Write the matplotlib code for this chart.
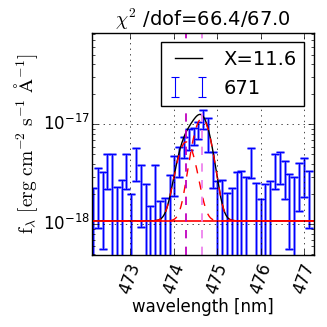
import numpy as np
import matplotlib
matplotlib.use("Agg")
import matplotlib.pyplot as plt

plt.style.use("classic")
plt.rcParams["mathtext.fontset"] = "cm"

# data (flux in 1e-18 erg/cm2/s/A): upper and lower ends of each error bar
wavelength = [472.151, 472.261, 472.371, 472.481, 472.591, 472.701, 472.810, 472.920,
              473.030, 473.140, 473.250, 473.360, 473.470, 473.580, 473.690, 473.800,
              473.909, 474.019, 474.129, 474.239, 474.349, 474.459, 474.569, 474.679,
              474.789, 474.899, 475.008, 475.118, 475.228, 475.338, 475.448, 475.558,
              475.668, 475.778, 475.888, 475.998, 476.107, 476.217, 476.327, 476.437,
              476.547, 476.657, 476.767, 476.877, 476.987, 477.097]
flux_hi = [2.3, 3.63, 3.3, 5.0, 5.1, 2.34, 2.75, 5.0, 2.0, 5.75, 3.9, 2.5,
           1.51, 3.9, 1.7, 1.82, 3.1, 4.8, 6.0, 7.4, 9.1, 9.3, 10.5, 13.8,
           11.5, 5.25, 2.7, 2.75, 2.04, 2.3, 3.3, 3.4, 3.0, 5.75, 2.57, 1.78,
           2.5, 2.7, 5.0, 5.25, 4.27, 3.2, 3.0, 4.07, 4.57, 3.4]
flux_lo = [-0.3, 0.91, 0.56, 2.24, -0.3, -0.4, -0.3, 2.24, -0.5, 2.7, 0.93, -0.3,
           -0.2, -0.5, -0.3, -0.3, -0.3, 1.9, 3.0, 4.57, 5.6, 6.2, 7.2, 8.9,
           5.25, 2.3, -0.3, -0.3, -0.3, -0.3, -0.3, -0.3, -0.3, 2.88, -0.3, -0.3,
           -0.3, -0.3, 2.24, 2.5, 1.78, 0.56, -0.3, 1.35, 1.86, 0.91]

# model parameters
continuum = 1.08          # 1e-18
line_centers = [474.29, 474.65]
line_amps = [5.6, 10.4]   # 1e-18
line_sigma = 0.19         # nm
line_colors = ["m", "violet"]

title = r"$\chi^2$ /dof=66.4/67.0"
model_label = "X=11.6"
data_label = "671"
xticks = [473, 474, 475, 476, 477]

scale = 1e-18
wl = np.array(wavelength)
hi = np.array(flux_hi) * scale
lo = np.array(flux_lo) * scale
flux = (hi + lo) / 2
err = (hi - lo) / 2

fig = plt.figure(figsize=(3.27, 3.27), dpi=100)
ax = fig.add_axes([0.280, 0.220, 0.680, 0.680])
ax.set_yscale("log", nonpositive="clip")

grid = np.linspace(472.0, 477.4, 600)
comps = [continuum * scale + a * scale * np.exp(-(grid - c) ** 2 / (2 * line_sigma ** 2))
         for c, a in zip(line_centers, line_amps)]
total = continuum * scale + sum(a * scale * np.exp(-(grid - c) ** 2 / (2 * line_sigma ** 2))
                                for c, a in zip(line_centers, line_amps))

ax.errorbar(wl, flux, yerr=err, fmt="none", ecolor="#8484ff", elinewidth=2.0,
            capsize=3, capthick=2.0)
eb = ax.errorbar(wl, flux, yerr=err, fmt="none", ecolor="b", elinewidth=0.8,
                 capsize=3, capthick=0.8, label=data_label)
ln, = ax.plot(grid, total, "k-", lw=1, label=model_label)
ax.axhline(continuum * scale, color="r", lw=1.2)
for comp in comps:
    ax.plot(grid, comp, "r--", lw=1)
for c, col in zip(line_centers, line_colors):
    ax.axvline(c, color=col, ls="--", lw=1.3)

ax.set_xlim(472.12, 477.22)
ax.set_ylim(10 ** -18.31, 10 ** -16.08)
ax.set_xticks(xticks)
ax.set_xticklabels([str(t) for t in xticks], rotation=70)
ax.tick_params(axis="x", labelsize=12)
ax.tick_params(axis="y", which="major", labelsize=12, pad=1)
ax.grid(True)
ax.set_xlabel("wavelength [nm]", fontsize=12, labelpad=1)
ax.set_ylabel(r"$\mathrm{f}_\lambda\ [\mathrm{erg\ cm^{-2}\ s^{-1}\ \AA^{-1}}]$",
              fontsize=14, labelpad=2)
ax.set_title(title, fontsize=14)
ax.legend([ln, eb], [model_label, data_label], loc="upper right", numpoints=2,
          fontsize=14)

fig.savefig("out.png", dpi=100)
